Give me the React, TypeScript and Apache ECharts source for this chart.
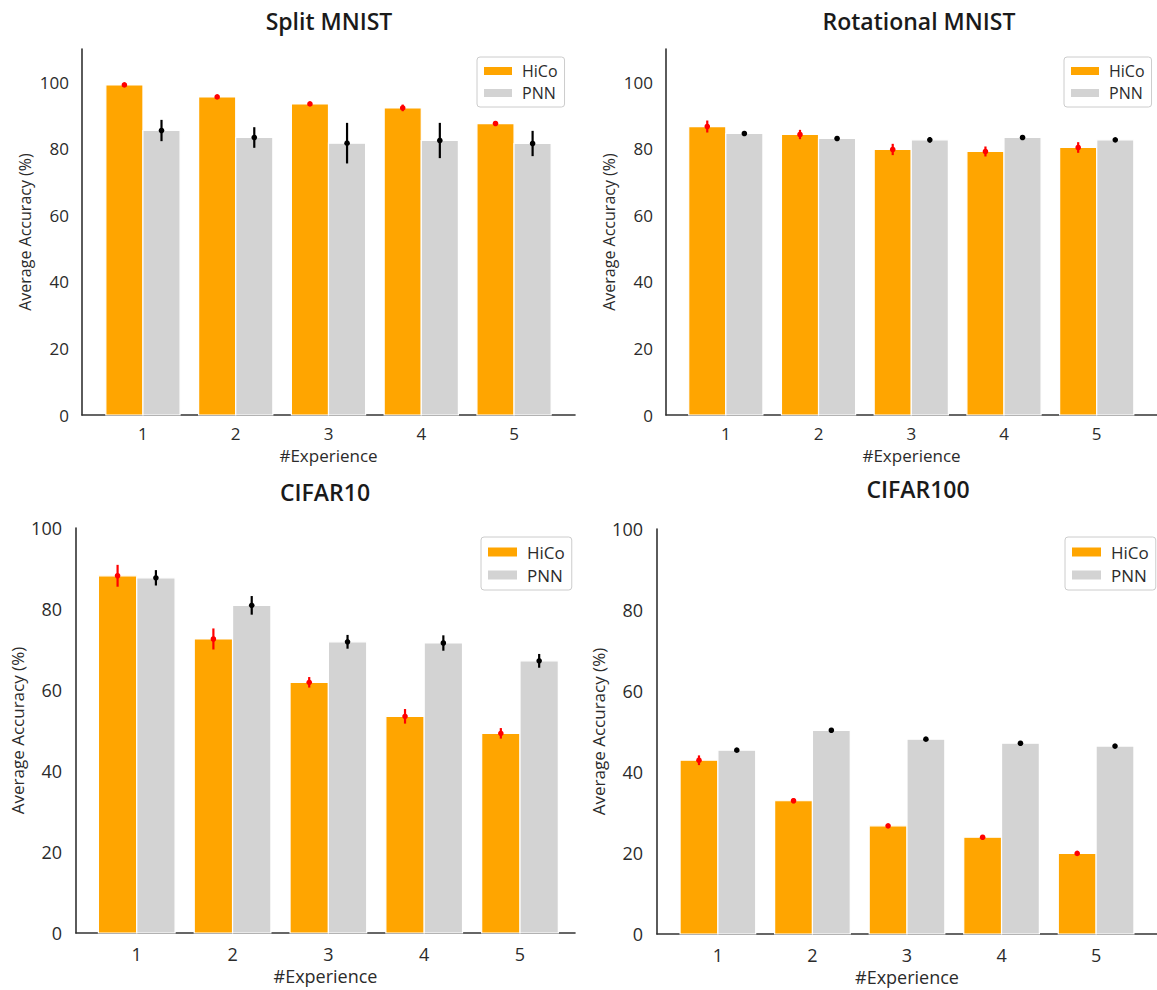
import React, { useEffect, useRef } from "react";
import * as echarts from "echarts";

// ---- data ----
const experiences = [1, 2, 3, 4, 5];
const yTicks = [0, 20, 40, 60, 80, 100];
const seriesNames = ["HiCo", "PNN"];

const splitHiCo = [99.2, 95.6, 93.5, 92.3, 87.6];
const splitHiCoErr = [0.3, 0.6, 0.6, 1.0, 0.4];
const splitPNN = [85.5, 83.4, 81.7, 82.5, 81.6];
const splitPNNErr = [3.2, 3.1, 6.1, 5.3, 3.8];

const rotHiCo = [86.7, 84.3, 79.8, 79.2, 80.4];
const rotHiCoErr = [1.8, 1.4, 1.7, 1.5, 1.6];
const rotPNN = [84.6, 83.1, 82.7, 83.4, 82.7];
const rotPNNErr = [0.3, 0.5, 0.8, 0.3, 0.3];

const c10HiCo = [88.2, 72.6, 61.9, 53.5, 49.3];
const c10HiCoErr = [2.7, 2.6, 1.3, 1.8, 1.3];
const c10PNN = [87.7, 80.9, 71.9, 71.6, 67.2];
const c10PNNErr = [1.9, 2.3, 1.7, 1.9, 1.7];

const c100HiCo = [42.9, 32.9, 26.7, 23.9, 19.9];
const c100HiCoErr = [1.2, 0.6, 0.4, 0.4, 0.4];
const c100PNN = [45.4, 50.3, 48.1, 47.1, 46.4];
const c100PNNErr = [0.3, 0.3, 0.3, 0.3, 0.3];

const titles = ["Split MNIST", "Rotational MNIST", "CIFAR10", "CIFAR100"];
const hicoVals = [splitHiCo, rotHiCo, c10HiCo, c100HiCo];
const hicoErrs = [splitHiCoErr, rotHiCoErr, c10HiCoErr, c100HiCoErr];
const pnnVals = [splitPNN, rotPNN, c10PNN, c100PNN];
const pnnErrs = [splitPNNErr, rotPNNErr, c10PNNErr, c100PNNErr];
const yMaxes = [110, 110, 100, 100];

// ---- layout / style ----
const FONT = '"Open Sans", "Noto Sans", sans-serif';
const TXT = "#2b2b2b";
const ORANGE = "#FFA500";
const GRAY = "#D3D3D3";
const BAR_W = 0.4;

const layouts = [
  { grid: { left: 82, top: 49, width: 493, height: 366 }, xMin: 0.343, xMax: 5.657, title: { x: 329, y: 9 }, legend: { left: 477, top: 57 }, big: false },
  { grid: { left: 666, top: 49, width: 493, height: 366 }, xMin: 0.355, xMax: 5.65, title: { x: 919, y: 9 }, legend: { left: 1064, top: 57 }, big: false },
  { grid: { left: 76, top: 528, width: 499, height: 405 }, xMin: 0.366, xMax: 5.574, title: { x: 325, y: 480 }, legend: { left: 481, top: 537 }, big: true },
  { grid: { left: 657, top: 529, width: 506, height: 405 }, xMin: 0.356, xMax: 5.644, title: { x: 918, y: 477 }, legend: { left: 1065, top: 537 }, big: true },
];

function barRender(offset: number) {
  return (params: any, api: any) => {
    const x = api.value(0);
    const v = api.value(1);
    const p0 = api.coord([x + offset - BAR_W / 2, v]);
    const p1 = api.coord([x + offset + BAR_W / 2, 0]);
    return {
      type: "rect",
      shape: { x: p0[0], y: p0[1], width: p1[0] - p0[0], height: p1[1] - p0[1] },
      style: { fill: api.visual("color"), stroke: "#ffffff", lineWidth: 1.2 },
    };
  };
}

function errRender(offset: number, color: string) {
  return (params: any, api: any) => {
    const x = api.value(0) + offset;
    const m = api.value(1);
    const e = api.value(2);
    const lo = api.coord([x, m - e]);
    const hi = api.coord([x, m + e]);
    const c = api.coord([x, m]);
    return {
      type: "group",
      children: [
        { type: "line", shape: { x1: lo[0], y1: lo[1], x2: hi[0], y2: hi[1] }, style: { stroke: color, lineWidth: 2.2 } },
        { type: "circle", shape: { cx: c[0], cy: c[1], r: 2.8 }, style: { fill: color } },
      ],
    };
  };
}

export default function App() {
  const ref = useRef<HTMLDivElement>(null);
  useEffect(() => {
    if (!ref.current) return;
    const chart = echarts.init(ref.current, null, { renderer: "svg" });

    const grid: any[] = [];
    const xAxis: any[] = [];
    const yAxis: any[] = [];
    const series: any[] = [];
    const title: any[] = [];
    const legend: any[] = [];

    layouts.forEach((L, i) => {
      const tickFs = L.big ? 18 : 17;
      const nameFs = L.big ? 18 : 17;
      grid.push({ ...L.grid, containLabel: false });
      xAxis.push({
        type: "value",
        gridIndex: i,
        min: L.xMin,
        max: L.xMax,
        name: "#Experience",
        nameLocation: "middle",
        nameGap: L.big ? 34 : 32,
        nameTextStyle: { fontFamily: FONT, fontSize: nameFs, color: TXT },
        axisLine: { show: true, onZero: false, lineStyle: { color: "#333", width: 1.6 } },
        axisTick: { show: false },
        splitLine: { show: false },
        axisLabel: { customValues: experiences, fontFamily: FONT, fontSize: tickFs, color: TXT, margin: L.big ? 12 : 10 },
      });
      yAxis.push({
        type: "value",
        gridIndex: i,
        min: 0,
        max: yMaxes[i],
        interval: 20,
        name: "Average Accuracy (%)",
        nameLocation: "middle",
        nameGap: L.big ? 50 : 49,
        nameTextStyle: { fontFamily: FONT, fontSize: L.big ? 17 : 16, color: TXT },
        axisLine: { show: true, onZero: false, lineStyle: { color: "#333", width: 1.6 } },
        axisTick: { show: false },
        splitLine: { show: false },
        axisLabel: { customValues: yTicks, fontFamily: FONT, fontSize: tickFs, color: TXT, margin: L.big ? 14 : 13 },
      });
      title.push({
        text: titles[i],
        left: L.title.x,
        top: L.title.y,
        textAlign: "center",
        textVerticalAlign: "top",
        padding: 0,
        textStyle: { fontFamily: FONT, fontSize: 23, fontWeight: 600, color: "#1a1a1a" },
      });
      legend.push({
        data: seriesNames,
        orient: "vertical",
        left: L.legend.left,
        top: L.legend.top,
        icon: "rect",
        itemWidth: L.big ? 29 : 28,
        itemHeight: L.big ? 9 : 8,
        itemGap: L.big ? 5 : 4,
        selectedMode: false,
        backgroundColor: "#ffffff",
        borderColor: "#cccccc",
        borderWidth: 1,
        borderRadius: 3,
        padding: L.big ? [6, 7, 6, 7] : [5, 7, 5, 7],
        textStyle: { fontFamily: FONT, fontSize: L.big ? 17 : 16, color: TXT, lineHeight: 18, padding: [0, 0, 0, 5] },
      });

      const hData = experiences.map((x, k) => [x, hicoVals[i][k]]);
      const pData = experiences.map((x, k) => [x, pnnVals[i][k]]);
      const heData = experiences.map((x, k) => [x, hicoVals[i][k], hicoErrs[i][k]]);
      const peData = experiences.map((x, k) => [x, pnnVals[i][k], pnnErrs[i][k]]);

      series.push({
        type: "custom",
        name: "HiCo",
        xAxisIndex: i,
        yAxisIndex: i,
        itemStyle: { color: ORANGE },
        renderItem: barRender(-BAR_W / 2),
        data: hData,
        z: 2,
      });
      series.push({
        type: "custom",
        name: "PNN",
        xAxisIndex: i,
        yAxisIndex: i,
        itemStyle: { color: GRAY },
        renderItem: barRender(BAR_W / 2),
        data: pData,
        z: 2,
      });
      series.push({
        type: "custom",
        name: "HiCo std",
        xAxisIndex: i,
        yAxisIndex: i,
        itemStyle: { color: "#ff0000" },
        renderItem: errRender(-BAR_W / 2, "#ff0000"),
        data: heData,
        z: 5,
      });
      series.push({
        type: "custom",
        name: "PNN std",
        xAxisIndex: i,
        yAxisIndex: i,
        itemStyle: { color: "#000000" },
        renderItem: errRender(BAR_W / 2, "#000000"),
        data: peData,
        z: 5,
      });
    });

    chart.setOption({
      animation: false,
      backgroundColor: "#ffffff",
      title,
      legend,
      grid,
      xAxis,
      yAxis,
      series,
    });
    return () => chart.dispose();
  }, []);

  return (
    <div
      ref={ref}
      style={{ position: "absolute", left: 0, top: 0, width: 1157, height: 990, background: "#fff" }}
    />
  );
}
